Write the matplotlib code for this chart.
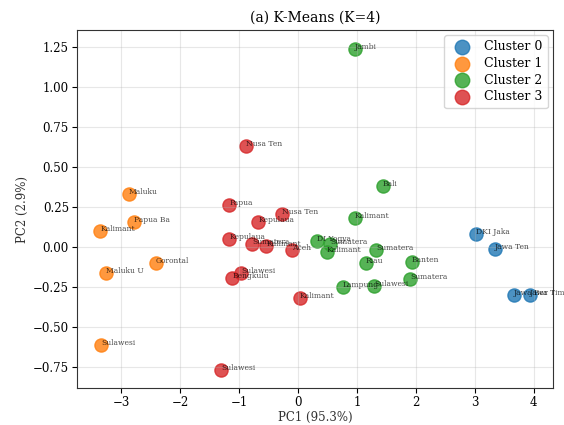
import matplotlib
matplotlib.use("Agg")
import matplotlib.pyplot as plt

plt.rcParams['font.family'] = ['DejaVu Serif']

# PCA coordinates per cluster
c0_names = ['DKI Jaka', 'Jawa Ten', 'Jawa Bar', 'Jawa Tim']
c0_x = [3.02, 3.34, 3.66, 3.93]
c0_y = [0.08, -0.01, -0.30, -0.30]

c1_names = ['Maluku', 'Papua Ba', 'Kalimant', 'Gorontal', 'Maluku U', 'Sulawesi']
c1_x = [-2.88, -2.78, -3.36, -2.42, -3.27, -3.34]
c1_y = [0.33, 0.16, 0.10, -0.10, -0.16, -0.61]

c2_names = ['Jambi', 'Bali', 'Kalimant', 'DI Yogya', 'Sumatera', 'Kalimant',
            'Sumatera', 'Riau', 'Banten', 'Sumatera', 'Lampung', 'Sulawesi']
c2_x = [0.96, 1.44, 0.96, 0.32, 0.54, 0.49, 1.32, 1.15, 1.93, 1.90, 0.76, 1.29]
c2_y = [1.24, 0.38, 0.18, 0.04, 0.02, -0.03, -0.02, -0.10, -0.09, -0.20, -0.25, -0.24]

c3_names = ['Nusa Ten', 'Papua', 'Nusa Ten', 'Kepulaua', 'Kepulaua', 'Sumatera',
            'Kalimant', 'Aceh', 'Sulawesi', 'Bengkulu', 'Kalimant', 'Sulawesi']
c3_x = [-0.88, -1.17, -0.27, -0.68, -1.17, -0.78, -0.54, -0.10, -0.97, -1.12, 0.03, -1.31]
c3_y = [0.63, 0.26, 0.21, 0.16, 0.05, 0.02, 0.01, -0.02, -0.16, -0.19, -0.32, -0.77]

clusters = [(c0_names, c0_x, c0_y), (c1_names, c1_x, c1_y),
            (c2_names, c2_x, c2_y), (c3_names, c3_x, c3_y)]
colors = ['#1f77b4', '#ff7f0e', '#2ca02c', '#d62728']

fig, ax = plt.subplots(figsize=(5.64, 4.25), dpi=100)
fig.subplots_adjust(left=0.137, right=0.98, top=0.929, bottom=0.087)

for k, (names, xs, ys) in enumerate(clusters):
    ax.scatter(xs, ys, s=90, c=colors[k], alpha=0.8, label=f'Cluster {k}')
    for name, x, y in zip(names, xs, ys):
        ax.annotate(name, (x, y), fontsize=5.5, alpha=0.7)

ax.set_xlim(-3.75, 4.32)
ax.set_ylim(-0.88, 1.355)
ax.set_xlabel('PC1 (95.3%)', fontsize=8.5, color='#333333', labelpad=1.5)
ax.set_ylabel('PC2 (2.9%)', fontsize=8.5, color='#333333', labelpad=3)
ax.set_title('(a) K-Means (K=4)', fontsize=10)
ax.tick_params(labelsize=8.5, pad=2.5)
ax.grid(True, alpha=0.3)
for sp in ax.spines.values():
    sp.set_color('#333333')
ax.legend(loc='upper right', fontsize=9, markerscale=1.1, borderaxespad=0.4,
          labelspacing=0.3)

plt.savefig('out.png', dpi=100)
